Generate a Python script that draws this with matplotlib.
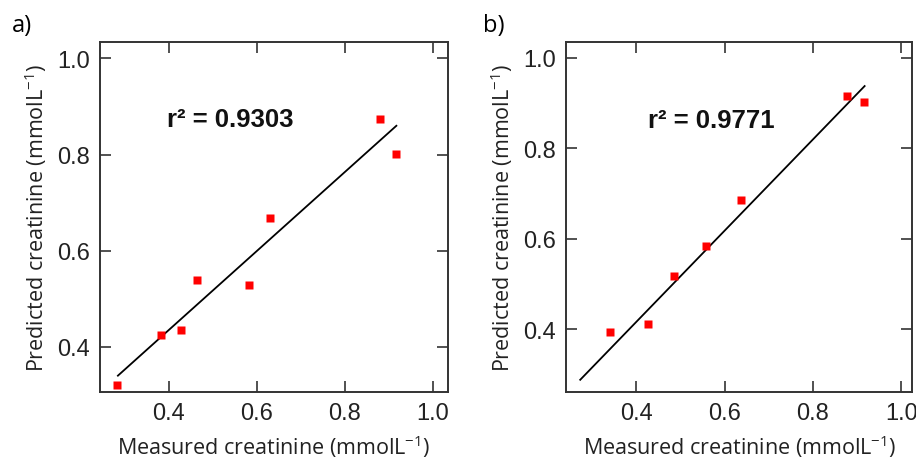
import numpy as np
import matplotlib
matplotlib.use("Agg")
import matplotlib.pyplot as plt

# panel a) measured vs predicted creatinine (mmol/L)
meas_a = [0.284, 0.383, 0.429, 0.465, 0.582, 0.630, 0.879, 0.917]
pred_a = [0.320, 0.424, 0.435, 0.539, 0.528, 0.669, 0.875, 0.802]
fit_a_x = [0.285, 0.917]
fit_a_y = [0.340, 0.860]
r2_a = "0.9303"

# panel b)
meas_b = [0.340, 0.427, 0.486, 0.557, 0.638, 0.878, 0.915]
pred_b = [0.393, 0.411, 0.517, 0.583, 0.686, 0.914, 0.901]
fit_b_x = [0.273, 0.917]
fit_b_y = [0.288, 0.937]
r2_b = "0.9771"

ticks = [0.4, 0.6, 0.8, 1.0]

plt.rcParams["font.family"] = ["Liberation Sans", "DejaVu Sans"]
plt.rcParams["mathtext.fontset"] = "custom"
plt.rcParams["mathtext.rm"] = "Open Sans"
plt.rcParams["mathtext.default"] = "regular"

fig = plt.figure(figsize=(9.16, 4.64), dpi=100)
ax_a = fig.add_axes([0.109, 0.153, 0.380, 0.754])
ax_b = fig.add_axes([0.618, 0.153, 0.378, 0.754])

panels = [
    (ax_a, meas_a, pred_a, fit_a_x, fit_a_y, r2_a, (0.244, 1.034), (0.306, 1.034), (0.396, 0.874)),
    (ax_b, meas_b, pred_b, fit_b_x, fit_b_y, r2_b, (0.241, 1.025), (0.261, 1.034), (0.426, 0.861)),
]

for ax, mx, py, fx, fy, r2, xl, yl, tpos in panels:
    ax.plot(fx, fy, color="black", lw=1.3, zorder=2)
    ax.plot(mx, py, "s", color="#ff0000", ms=6.2, mec="none", zorder=3)
    ax.set_xlim(*xl)
    ax.set_ylim(*yl)
    ax.set_xticks(ticks)
    ax.set_yticks(ticks)
    ax.set_xticklabels([f"{t:.1f}" for t in ticks])
    ax.set_yticklabels([f"{t:.1f}" for t in ticks])
    ax.tick_params(direction="in", top=True, right=True, length=8, width=1.2,
                   color="#333333", labelsize=17, pad=7, labelcolor="#222222")
    for sp in ax.spines.values():
        sp.set_color("#333333")
        sp.set_linewidth(1.4)
    ax.text(tpos[0], tpos[1], "r² = " + r2, fontsize=18.5, fontweight="bold",
            va="center", ha="left", color="#111111")
    ax.set_xlabel("Measured creatinine (mmolL$^{-1}$)", family="Open Sans",
                  fontsize=15.5, labelpad=6, color="#222222")
    ax.set_ylabel("Predicted creatinine (mmolL$^{-1}$)", family="Open Sans",
                  fontsize=15.5, labelpad=6, color="#222222")

fig.text(0.013, 0.945, "a)", fontsize=17, family="Open Sans", va="center")
fig.text(0.527, 0.945, "b)", fontsize=17, family="Open Sans", va="center")

fig.savefig("out.png", dpi=100)
